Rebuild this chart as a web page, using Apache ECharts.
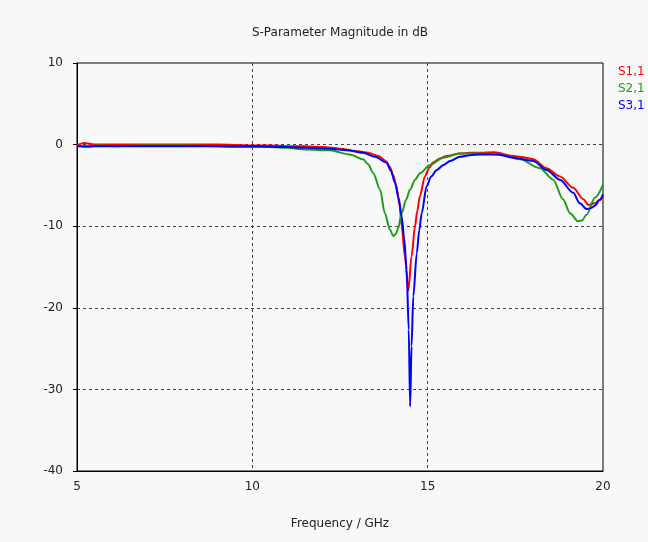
<!DOCTYPE html>
<html>
<head>
<meta charset="utf-8">
<title>S-Parameter Magnitude in dB</title>
<script src="https://cdn.jsdelivr.net/npm/echarts@6/dist/echarts.min.js"></script>
<style>
    html, body { margin: 0; padding: 0; background: #f8f8f8; }
    #chart { width: 648px; height: 542px; }
</style>
</head>
<body>
<div id="chart"></div>
<script>
// axis ticks
const xTicks = [5, 10, 15, 20];
const yTicks = [-40, -30, -20, -10, 0, 10];

// S1,1
const s11Freq = [5, 5.2, 5.5, 6, 7, 8, 9, 10, 10.5, 11, 11.5, 12, 12.5, 13, 13.3, 13.6, 13.8, 13.92, 14.02, 14.11, 14.2, 14.26, 14.35, 14.45, 14.54, 14.64, 14.7, 14.78, 14.92, 15.05, 15.15, 15.35, 15.54, 15.92, 16.2, 16.5, 16.9, 17.44, 17.8, 18.01, 18.39, 18.77, 19.15, 19.44, 19.58, 19.77, 19.9, 20];
const s11dB = [-0.1, 0.2, 0.0, 0.0, 0.0, 0.0, 0.0, -0.1, -0.1, -0.2, -0.2, -0.3, -0.5, -0.8, -1.0, -1.4, -2.0, -2.7, -3.8, -5.1, -7.5, -10, -13.7, -17.9, -13.7, -10, -8.2, -6.3, -3.9, -2.8, -2.2, -1.7, -1.4, -1.1, -1.0, -1.0, -0.95, -1.4, -1.6, -1.8, -2.9, -3.9, -5.3, -6.7, -7.4, -7.2, -6.8, -6.4];

// S2,1
const s21Freq = [5, 5.3, 5.6, 6, 7, 8, 9, 9.5, 10, 10.5, 11, 11.5, 12.2, 12.78, 13.16, 13.3, 13.45, 13.64, 13.78, 13.92, 14.02, 14.1, 14.16, 14.26, 14.38, 14.5, 14.64, 14.78, 15.07, 15.44, 15.92, 16.49, 17.06, 17.63, 18.2, 18.58, 18.86, 19.06, 19.29, 19.4, 19.53, 19.77, 20];
const s21dB = [-0.1, -0.3, -0.1, -0.2, -0.1, -0.1, -0.2, -0.3, -0.3, -0.3, -0.4, -0.6, -0.7, -1.2, -1.8, -2.4, -3.5, -5.5, -8.4, -10.4, -11.2, -10.9, -10.2, -8.4, -6.8, -5.5, -4.3, -3.5, -2.5, -1.6, -1.1, -1.1, -1.2, -1.8, -2.9, -4.3, -6.7, -8.4, -9.4, -9.3, -8.6, -6.5, -4.9];

// S3,1
const s31Freq = [5, 6, 7, 8, 9, 10, 11, 11.5, 12.2, 12.7, 13.16, 13.5, 13.83, 13.95, 14.07, 14.17, 14.26, 14.33, 14.4, 14.46, 14.5, 14.54, 14.59, 14.69, 14.76, 14.83, 14.97, 15.1, 15.26, 15.45, 15.64, 15.92, 16.2, 16.49, 17.0, 17.44, 18.01, 18.39, 18.77, 19.15, 19.34, 19.53, 19.65, 19.77, 19.9, 20];
const s31dB = [-0.2, -0.2, -0.2, -0.2, -0.2, -0.2, -0.3, -0.4, -0.5, -0.7, -1.0, -1.5, -2.2, -3.2, -4.7, -6.5, -8.8, -11.5, -15.3, -22.7, -32.1, -24.7, -18.6, -13.3, -10.5, -8.4, -5.1, -3.9, -3.1, -2.5, -2.0, -1.5, -1.3, -1.2, -1.2, -1.6, -2.0, -3.1, -4.3, -5.9, -7.2, -7.9, -7.8, -7.5, -6.8, -6.1];

const seriesNames = ['S1,1', 'S2,1', 'S3,1'];
const colors = ['#ff0000', '#1a9e1a', '#0000ff'];

const zip = (xs, ys) => xs.map((x, i) => [x, ys[i]]);
const lines = [zip(s11Freq, s11dB), zip(s21Freq, s21dB), zip(s31Freq, s31dB)];

const font = 'DejaVu Sans';
const chart = echarts.init(document.getElementById('chart'));

chart.setOption({
    backgroundColor: '#f8f8f8',
    animation: false,
    color: colors,
    title: {
        text: 'S-Parameter Magnitude in dB',
        left: 340,
        textAlign: 'center',
        top: 27,
        padding: 0,
        textStyle: { fontFamily: font, fontSize: 12, fontWeight: 'normal', color: '#222' },
    },
    legend: {
        orient: 'vertical',
        left: 618,
        top: 66,
        itemWidth: 0,
        itemHeight: 0,
        itemGap: 5,
        padding: 0,
        icon: 'rect',
        data: seriesNames.map((n, i) => ({ name: n, textStyle: { color: colors[i] } })),
        textStyle: { fontFamily: font, fontSize: 12, padding: [0, 0, 0, -5] },
    },
    grid: {
        left: 77,
        right: 45,
        top: 63,
        bottom: 71,
        show: true,
        borderColor: '#000',
        borderWidth: 1,
        backgroundColor: 'transparent',
    },
    xAxis: {
        type: 'value',
        min: xTicks[0],
        max: xTicks[xTicks.length - 1],
        interval: 5,
        name: 'Frequency / GHz',
        nameLocation: 'middle',
        nameGap: 47,
        nameTextStyle: { fontFamily: font, fontSize: 12, color: '#222' },
        axisLine: { onZero: false, lineStyle: { color: '#000', width: 1 } },
        axisTick: { show: false },
        axisLabel: { fontFamily: font, fontSize: 12, color: '#222', margin: 10 },
        splitLine: { show: true, showMinLine: false, showMaxLine: false, lineStyle: { color: '#444', type: [3, 3], width: 1 } },
    },
    yAxis: {
        type: 'value',
        min: yTicks[0],
        max: yTicks[yTicks.length - 1],
        interval: 10,
        axisLine: { show: true, onZero: false, lineStyle: { color: '#000', width: 1 } },
        axisTick: { show: true, length: 4, lineStyle: { color: '#000' } },
        axisLabel: { fontFamily: font, fontSize: 12, color: '#222', margin: 14, padding: [0, 0, 6, 0] },
        splitLine: { show: true, showMinLine: false, showMaxLine: false, lineStyle: { color: '#444', type: [3, 3], width: 1 } },
    },
    series: lines.map((d, i) => ({
        name: seriesNames[i],
        type: 'line',
        data: d,
        showSymbol: false,
        smooth: 0.3,
        smoothMonotone: 'x',
        lineStyle: { width: 2, color: colors[i] },
        z: 2 + i,
    })),
});
</script>
</body>
</html>
